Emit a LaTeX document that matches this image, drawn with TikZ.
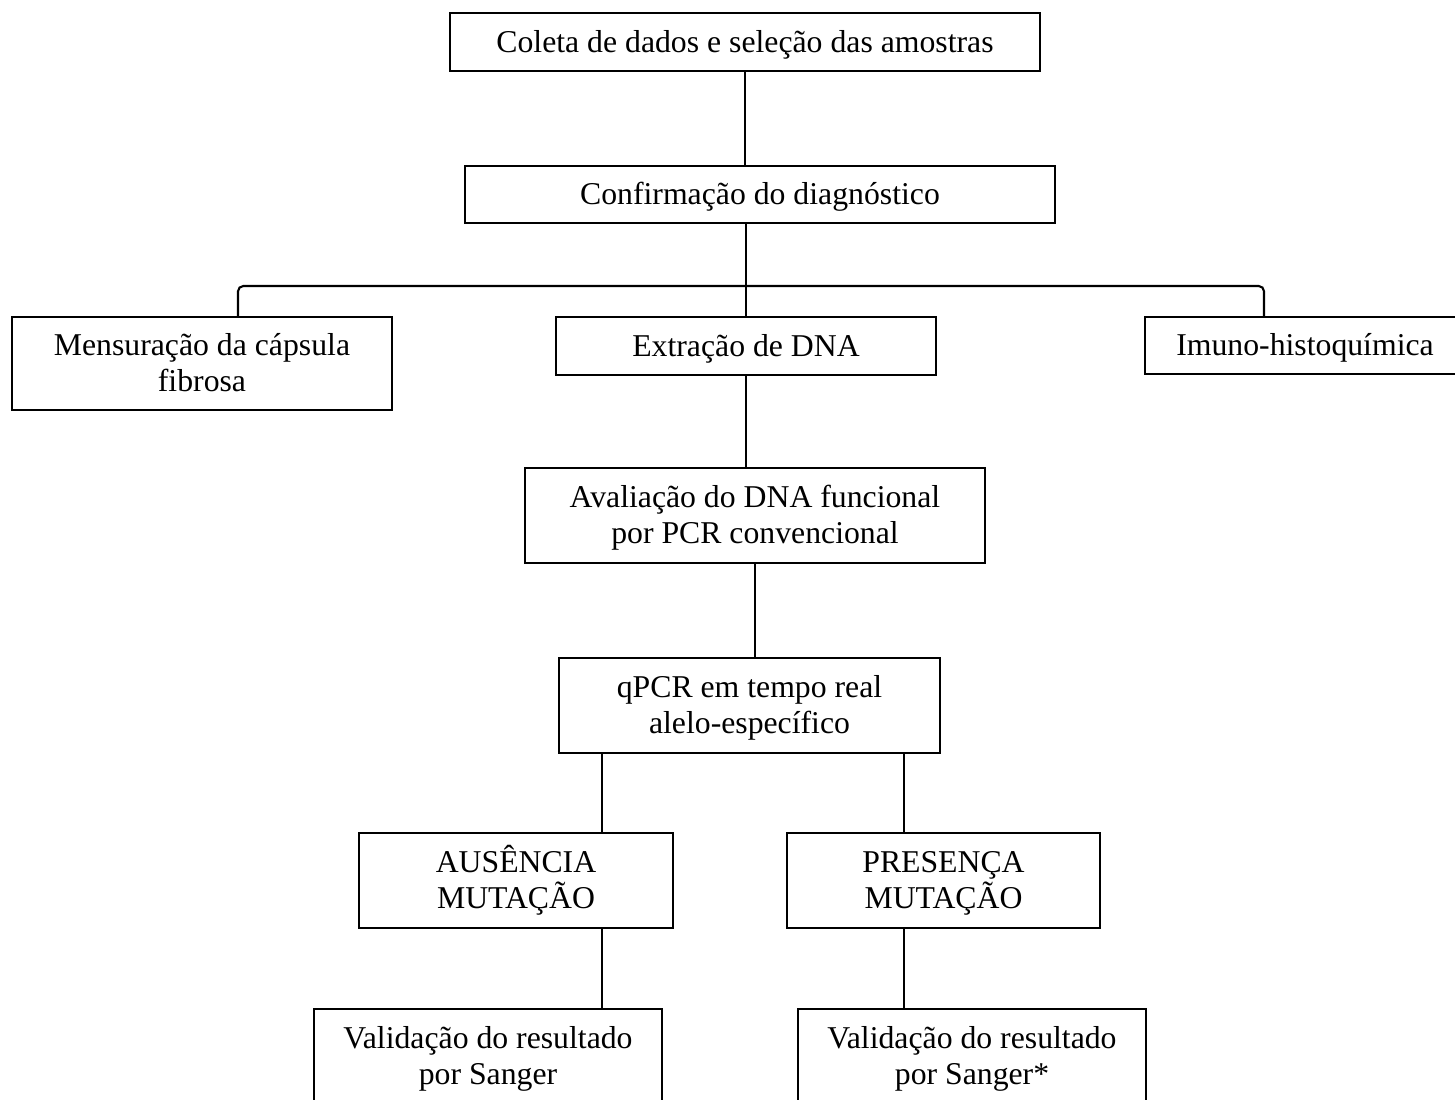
\documentclass[tikz,border=0pt]{standalone}
\usepackage{fontspec}
\setmainfont{Liberation Serif}
\newcommand{\px}{0.378pt}

\begin{document}
\begin{tikzpicture}[x=\px,y=-\px]
	\tikzset{
		N/.style 2 args={draw,line width=0.6pt,align=flush center,inner sep=0pt,font=\fontsize{12}{13.8}\selectfont,
			minimum width=#1*\px,text width=#1*\px,minimum height=#2*\px,
			execute at begin node={\rule{0pt}{11pt}},execute at end node={\rule[-3.44pt]{0pt}{3.44pt}}},
		L/.style={draw,line width=0.4pt},
	}
	\clip (0,0) rectangle (1455,1099);
	
	\node[N={590}{58}] (1) at (745,42) {Coleta de dados e seleção das amostras};
	\node[N={590}{57}] (2) at (760,194.5) {Confirmação do diagnóstico};
	\node[N={380}{93}] (3) at (202,363.5) {Mensuração da cápsula\\ fibrosa};
	\node[N={380}{58}] (4) at (746,346) {Extração de DNA};
	\node[N={320}{57}] (5) at (1305,345.5) {Imuno-histoquímica};
	\node[N={460}{95}] (6) at (755,515.5) {Avaliação do DNA funcional\\ por PCR convencional};
	\node[N={381}{95}] (7) at (749.5,705.5) {qPCR em tempo real\\ alelo-específico};
	\node[N={314}{95}] (8) at (516,880.5) {AUSÊNCIA\\ MUTAÇÃO};
	\node[N={313}{95}] (9) at (943.5,880.5) {PRESENÇA\\ MUTAÇÃO};
	\node[N={348}{95}] (10) at (488,1056.5) {Validação do resultado\\ por Sanger};
	\node[N={348}{95}] (11) at (972,1056.5) {Validação do resultado\\ por Sanger*};
	
	\coordinate (bl) at (238,286);
	\coordinate (br) at (1264,286);
	\coordinate (al) at (602,0);
	\coordinate (ar) at (904,0);
	
	% chave sobre a terceira linha
	\draw[line width=0.8pt,rounded corners=2pt] (3.north -| bl) -- (bl) -- (br) -- (br |- 5.north);
	
	\path[L]
	(1.south) edge (1.south |- 2.north)
	(4.north |- 2.south) edge (4.north)
	(4.south) edge (4.south |- 6.north)
	(6.south) edge (6.south |- 7.north)
	(7.south -| al) edge (8.north -| al)
	(7.south -| ar) edge (9.north -| ar)
	(8.south -| al) edge (10.north -| al)
	(9.south -| ar) edge (11.north -| ar);
\end{tikzpicture}
\end{document}
